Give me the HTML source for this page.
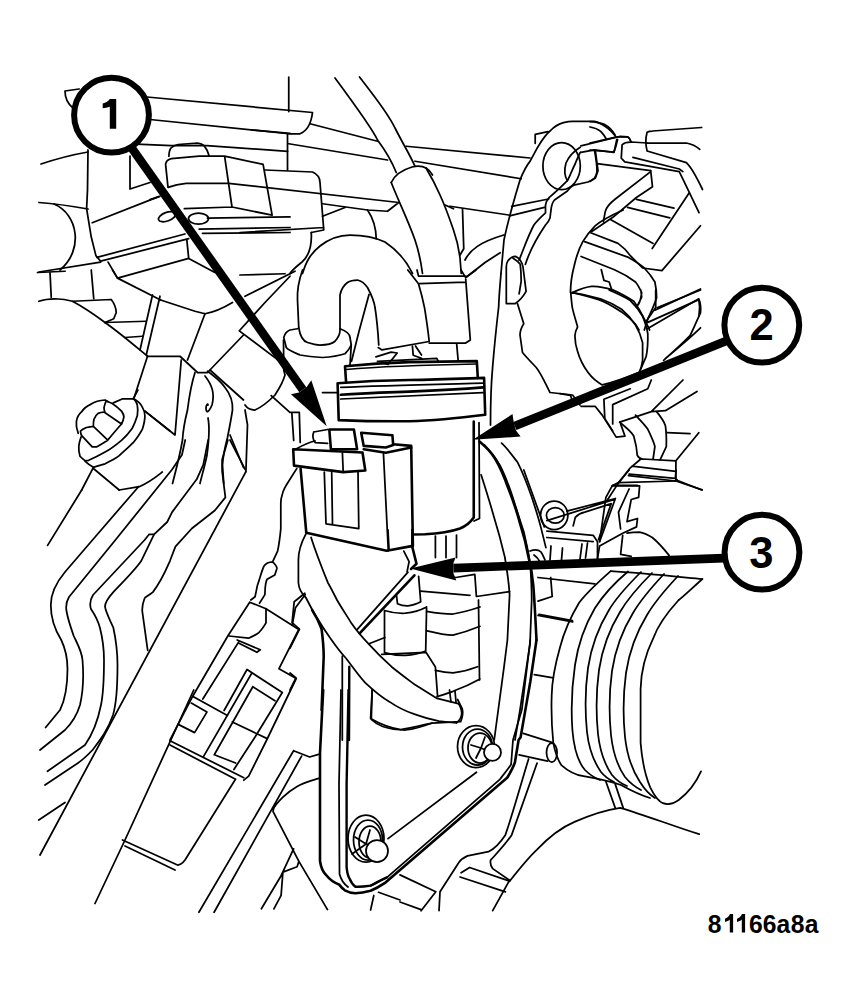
<!DOCTYPE html>
<html><head><meta charset="utf-8"><style>
html,body{margin:0;padding:0;background:#fff;width:854px;height:1008px;overflow:hidden}
svg{display:block}
.t{font-family:"Liberation Sans",sans-serif;font-weight:bold}
</style></head><body>
<svg width="854" height="1008" viewBox="0 0 854 1008">
<g fill="none" stroke="#000" stroke-width="1.75" stroke-linejoin="round" stroke-linecap="round">
<!-- region A -->
<path d="M65,91 L79,89 M65,91 C65,99 68,104 73,108"/>
<path d="M147,97 L312.5,112.5 C311,125 307,131 300,133.75 L288.75,133.75 L150,119.5"/>
<path d="M288.75,77 L288.75,111.5 M287.5,133.75 L287.5,170"/>
<path d="M136.2,144.2 L171.3,145.6 L206.6,145.6 L287.7,151.3"/>
<path d="M168.9,156.2 C169,152 169.5,150 171,148 C173,146 175,145 178,144.5 L197.5,143.1 C200,143.3 202,144 204.1,145.6 C206,148 208,152 209,155.4"/>
<path d="M165.6,164.4 C166,161 168,159.5 171.3,158.7 L199.2,156.2 L224.6,156.2 L263.1,164.4 L272.1,215.2 L232,207 L184.4,208.7 M165.6,164.4 L168,187.4 C174,185 180,183.8 186.1,183.3 L228.7,183.3 M224.6,156.2 L232,207 M251.6,130 L290,133.3"/>
<path d="M130,156 L130,189 L150,182.5"/>
<path d="M41,164 Q65,156 88,152"/>
<path d="M88,150 L87.5,190 L86.6,208.7 L91.2,236.8 L95.9,255.6 L100.6,261.2"/>
<path d="M39,202.5 Q60,204 88,209"/>
<path d="M54,204 C78,214 84,250 60,270"/>
<path d="M92.2,222.8 L158.7,196.6"/>
<path d="M96.9,257.4 L184.9,234 M100.6,261.2 L188.7,238.7 M39,272 L100.6,262.1"/>
<ellipse cx="167" cy="216.7" rx="9" ry="4.3" transform="rotate(-20 167 216.7)"/>
<ellipse cx="198.5" cy="218.6" rx="10" ry="5.5"/>
<path d="M207.4,218.1 L290,216.9 M150,199.7 L159.8,196.4"/>
<path d="M199.2,229.2 L290,227.5 M202.5,233.3 L290,232.5"/>
<path d="M108.1,262.1 L117.5,278.1 L188.7,258.4 L186.8,239.6 M117.5,278.1 L160.6,300 M188.7,258.4 L214.9,272.4"/>
<!-- region B -->
<path d="M310,123.75 L377.5,141.25"/>
<path d="M288.75,143.75 L387.5,160"/>
<path d="M406.25,146.25 L530,158 M415,161.25 L521.25,178.75"/>
<path d="M335,78 C355,105 372,128 377.5,140 C385,150 392,162 396.25,172.5"/>
<path d="M359.5,77 C375,97 388,113 395,128 C402,142 410,155 415,166.25"/>
<path d="M391.25,182.5 C395,174 402,170 412,167 C420,165 428,167 432.5,175"/>
<path d="M391.25,182.5 C398,200 408,220 415,240 C419,252 421,262 422.5,273.5"/>
<path d="M426,168 C432,178 436,186 440,195 C446,208 450,220 453.5,230 C457,240 459,250 460,258 L461.25,273.5"/>
<path d="M445,205 L453.5,208.75"/>
<path d="M265,170 L312.5,172 C317,174 320,178 320,182.5 L323.75,230 L311.25,232.5 M323.75,227.5 L240,232.5"/>
<path d="M228.7,183.3 L398.75,202.5 L387.5,211.25 L367.5,210 L322.5,203.75"/>
<path d="M322.5,216.25 L345,207.5"/>
<path d="M367.5,210 C373,218 376,228 376.25,238.75"/>
<path d="M302.5,273.5 C306,262 310,254 320,246 C330,238 340,235 350,235 C365,235 375,237 385,242 C397,250 406,260 412.5,273.5"/>
<path d="M311.25,232.5 C312,245 310,255 302,262 C297,266 292,270 290,273.5"/>
<!-- region C -->
<path d="M501,273.5 C502,262 503,250 504,240 C508,220 514,200 520,180 C524,170 527,165 530,161.4 L537.7,147.2 C542,140 546,134 550.6,130.5 C555,126 559,124 563.5,122.7 C567,121.8 570,121.4 572.5,121.4 L594.4,121.4 C599,122 603,125 607.3,127.9 C610,130 613,133 615.6,136.3"/>
<path d="M535.2,134.3 L535.2,143.3 M535.2,134.3 L548,131.7"/>
<ellipse cx="561.6" cy="166.1" rx="18.7" ry="23.5"/>
<path d="M580.2,147.2 C574,151 569,156 566,163 C564,170 564.5,176 567.4,180.7"/>
<path d="M580.9,145.9 L615.6,137.5 L620.2,136.3 L627.9,136.9 C629.5,138 630.5,140 631.1,142 M580.9,152.4 L594.4,149.8 L613.7,152.4 L615.6,147.2 L617.6,139.5"/>
<path d="M594.4,149.8 C596,158 597,165 597,171.7 C596.5,175 595.5,177 594.4,178.1 C592,180 590,181 588,182 L573.8,185.2 C570,187 569,189 567.4,191 L554.5,200 C552.5,202 551.8,205 551.3,207.7 L550,218 C549,221 547.5,223 545.5,225 C538,236 530,250 525.4,264.3"/>
<path d="M580.2,152.4 C578,157 576.5,160 575.1,164 C572,170 570,176 567.4,180.7 C562,186 556,192 549.3,197.4 C547,200 546,202 545.5,205.2 L545.5,212.9 C541,217 537,221 533.9,225 C528,236 524,248 519.1,260.1"/>
<path d="M511.7,206.3 L548.6,199 M509.6,215.8 L544.4,207.4 M466.4,277 L485.4,262.2 L500.2,252.7"/>
<path d="M450,206.25 L508.75,215"/>
<path d="M462.5,208.75 L463.75,248.75 L460,255"/>
<path d="M465,260 C470,250 480,242 503.75,235"/>
<!-- region D -->
<path d="M647.1,132.3 C649,131 650,131 652.5,131 L701.6,127.5 M647.1,132.3 C645.5,138 645.5,145 647.1,151 L686.4,162.7 C692,168 697,178 702.5,189.5"/>
<path d="M647.1,143 L686.4,143 C692,144 696,146 699.8,149.3"/>
<path d="M622.1,144.8 C624,142.5 627,142 631,142 L647.1,143 M622.1,144.8 L621.25,158.2 L624.8,161.8 L679.3,171.6 L699,212.7"/>
<path d="M632.9,157.3 L679.3,169 L682.9,171.6"/>
<path d="M590,143 L616.8,136.8 L627.5,136.8 C629.5,138 630.5,140 631,142 M590,150.2 L614.1,152 L616.8,139.5"/>
<path d="M590,121.6 C597,122 601,123 604.3,124.3 C609,127 613,131 615,135 M590,127 C596,128 599,130 600.7,131.4 C603,134 605,136 606,138.6"/>
<path d="M597.1,163.6 L650.7,170.7 M595.4,151 L598,170.7 L595.4,177.9 L590,181.4"/>
<path d="M650.7,170.7 L652.5,186.8 L636.4,197.5 L613.2,217.1 L591.8,231.4 M650.7,171.6 L615,199.3 C609,204 606,208 605.2,211.8 L603.4,221.6"/>
<!-- region E -->
<path d="M37.5,272.5 L65,271.25 M50,272.5 L51.25,297.5 M91.25,270 L93.75,298.75"/>
<path d="M38.75,301.25 C45,299 50,298.75 55,298.75 C62,299 68,300 72.5,301.25 C85,308 95,315 105,322.5 C120,333 135,346 147.5,356.25"/>
<path d="M72.5,301.25 L111.25,299.5 C114,303 116,308 116.25,312.5 L113.75,318.75 L105,322.5"/>
<path d="M105,322.5 L146.25,321.25 M125,337.5 L142.5,336.25"/>
<path d="M152.5,295 L140,350 M160,296.25 L146.25,355"/>
<path d="M160.6,300 L195,311.25 L205,313.75 C215,312 225,307 232.5,302.5 M112.5,270 L117.5,278.1"/>
<path d="M205,313.75 L187.5,360"/>
<path d="M147.5,356.25 L180,356.25 L197.5,372.5 L207.5,372.5 L243.5,335"/>
<path d="M147.5,356.25 L133.8,398.8 M144.9,411.1 L175,435 M181.25,360 L175,435"/>
<path d="M78.2,433.3 C76.5,429 76,425 76.4,421.6 C77,417 79,414 81.7,411.7 C84,408 87,406 91.1,404.1 C95,401.5 100,400.3 105.1,400 L108.1,401.7 M113.3,402.9 L122.7,398.8 L133.8,398.8"/>
<path d="M133.8,398.8 C136,401 137,403 137.3,405.2 C138,409 138,412 137.3,415.8 C136,420 134.5,424 132.1,428.6 C129,433 125.5,437 121.5,440.4 C116,445 111,449 105.1,452.1 C100,455 94,458 88.7,460.3 L85.2,460.8 C83,459 81.5,458 80,456.2 C79,453 78.5,450 78.8,446.2 C79,443 80,440 81.1,436.8"/>
<path d="M133.8,398.8 C138,401 141,404 142.6,407.6 C144,410 144.8,413 144.9,415.8 C145,420 144,424 142.6,428.6 C140,434 137,438 133.2,442.7 C129,447 124,451 119.2,455.6 C115,459 110,461 105.1,463.8 C101,465 97,466.5 93.4,467.3 C90,465.5 87.5,463.5 85.2,461.4"/>
<path d="M104,407.6 C104.5,405 105,403 106.3,401.1 C108,401.5 110,402.5 112.2,403.5 C116,406 119,408.5 121.5,411.1 C123,413 123.8,415 123.9,416.9 C123.5,419.5 122.8,421.8 121.5,424 L105.1,412.8 C104.3,411 104,409 104,407.6"/>
<path d="M104,412.2 C101.5,412.3 99.5,412.8 98.1,413.4 C96,415 94.8,417 94,419.3 C93.4,421.5 93.3,424 93.4,426.3 L107.5,439.8 M93.4,426.3 C91,426.5 88.5,427 86.4,427.5 C84,428.5 82,429.5 80.5,431 C80.5,433 81,434.5 81.7,435.7 L92.2,446.8 L96.9,446.8 C100,445 104,442.5 107.5,440.4 C112,435 117,429 121.5,424"/>
<path d="M93.4,467.3 L81.7,490 M93.4,468.5 L119.2,490 M144.9,411.1 L170,431 M133.2,398.8 L137.9,390"/>
<path d="M195,372.5 C191,385 189,398 187.5,410 C185,420 183,430 182.5,440 C180,455 176,470 172.5,483.5"/>
<path d="M207.5,371.25 C217,378 222,383 225,387.5 C231,395 233,402 232.5,410 C231,420 229,430 227.5,437.5 C225,447 223,456 222.5,465 L223.75,483.5"/>
<path d="M205,376 C212,385 215,393 212,405 C209,412 206,414 206,408 C206,405 208,403 208,405 M208,418 C210,428 209,440 207,455 C205,465 202,475 200,483.5"/>
<path d="M210,370 L243.5,400 M230,435 L243.5,467.5"/>
<!-- region F -->
<path d="M240,275 L285,273.75 M245,296.25 L295,271.25 M240,330 L265,302.5 L290,276.25"/>
<path d="M302.5,270 C299,280 297,290 297.5,300 L298.75,327.5 C300,336 303,341 307.5,342.5 C312,344 316,345 320,345 C327,345 332,344 335,341.25 C338,338 340,334 340,330 L340,295 C341,290 344,285 347.5,282.5 C351,280 354,280 357.5,280 C362,281 365,284 367.5,287.5 C371,294 374,300 375,307.5 C377,320 378,332 378.75,345"/>
<path d="M407.8,270 L418.5,283.7 C421,292 423,300 424.6,308.1 C426.5,320 428,330 429.2,341.5 L382,349.9 L378.2,347.6 M369,294.4 L359.1,330.9 L351.5,361.3"/>
<path d="M283.75,337.5 C285,333 287,331 290,330 L297.5,328.75 M340,328.75 C346,331 350,334 350,337.5 L351.25,345 C349,350 347,352 345,353.75 C338,356 330,357 322.5,357.5 C312,357 305,356 300,355 C293,352 288,350 286.25,347.5 L283.75,337.5"/>
<path d="M283.5,340 L283.75,370 L285,375 C282,385 278,390 275,395 C268,402 262,407 255,410 C250,410 247,408 245,405"/>
<path d="M351.25,345 L350,365"/>
<path d="M245,410 L247.5,425 L245.9,471.7 M271.2,395.6 L289.9,412.4 L299.3,412.4 L300.2,442.4 M291.8,412.4 L293.7,440.5 M239.3,330.9 L280.5,361.9"/>
<path d="M322.5,392.5 L337.5,392.5"/>
<path d="M375.9,356.8 L391.1,352.2 L397.2,353 L388.1,364.4 L382.7,362.9 M377.4,361.3 L436.8,358.3 L438.3,361.3 M412.4,346.1 L413.2,355.2 L421.5,358.3 M415.5,346 L421.5,355"/>
<path d="M418.5,276.1 L465.7,276.1 M419.3,283.7 L465.7,282.2 M465.7,279.1 L470.3,340 L465.7,343.1 L429.2,343.1 M456.6,343.1 L458.1,359.8 M417,270 L418.5,276.1 M461,270 L465.7,277.6 L476,270"/>
<!-- region G -->
<path d="M501,273.5 C500,285 499,296 498.7,306.5 C496,330 494,350 492.6,367.4 C491,385 490.5,405 490.5,425"/>
<path d="M517.5,303.75 L523.75,323.75 C521,328 520,332 520,335 L522.5,352.5 C527,358 532,363 536.25,367.5 C542,375 546,385 550,392.5 L572.5,395 C575,398 578,402 580,405"/>
<!-- canister & connector (thick) -->
<g stroke-width="2.6">
<path d="M345,366.3 C370,363.5 390,362.5 409.3,362.1 C440,361.5 460,361.2 476.8,361.1 L477.8,377.9 M345,366.3 L346.1,382.2"/>
<path d="M337.6,383.2 C360,381.5 390,380.3 409.3,380 C440,379.5 465,378.5 484.1,377.9 L485.2,414.8 C460,418 440,420.5 409.3,421.2 C380,421.5 360,421 338.7,420.1 L337.6,383.2"/>
<path d="M340.8,394.8 C370,393 390,392 409.3,391.6 C440,390.5 465,389 483.1,387.4"/>
<path d="M473.75,421.5 L473.75,517.5 C470,523 466,526 460,528.5 C450,532 440,533.5 425,534.2 L412.5,534.5"/>
<path d="M300.6,468.9 L306.3,532.8 L386.6,550.8 L412.9,545.9 L411.2,445.9 L393.2,444.3"/>
<path d="M293.2,449.2 L294,465.6 L343.2,472.1 L365.3,470.5 L362.5,452.5 L293.2,449.2"/>
<path d="M329.3,429.5 L353.9,429.5 L357.1,449.2 L330.9,449.2 Z"/>
<path d="M361.2,432.8 L392.4,435.2 L393.2,445.1 L385.8,447.5 L363.7,445.9 Z"/>
<path d="M363.7,449.2 L385.8,452.8 L411.2,447.5"/>
</g>
<path d="M346,369.5 C380,366.5 420,365 476.5,364"/>
<path d="M340.8,387.4 C380,385.5 430,384.5 483.1,383.2 M340.8,399 C380,397 430,395 483.1,392.7"/>
<path d="M479,422.7 L479.5,518.5 L474,521"/>
<path d="M313.7,432 L327.6,429.5 M313.7,432 C312.5,435 312.5,440 315.3,442.6 L327.6,443.4"/>
<path d="M324.3,472.1 L326,523.8 L358.8,528.7 L358,472.1 M331.7,472.5 L332.5,524.5"/>
<path d="M383.4,452.5 L388.3,550.8 M342.4,453 L343.2,472"/>
<path d="M296,449 C305,444 310,442 315,441"/>
<!-- left bottom curves -->
<path d="M138.5,486.7 L92.5,540 L65,572 C55,584 50.8,595 50.8,605 C50.8,620 55,630 61.25,640 C66,650 67.5,660 67.5,669 C67.5,685 65,700 60,710 L45.6,727.5"/>
<path d="M185.2,440 L182,454.8 L172.1,469.5 L115.4,540 L69,597 C66,602 66,608 66.5,611 C68,620 71,628 73.75,636 C78,645 82,652 82.5,660 C83.5,672 83.5,690 80,705 C77,715 73,722 65,730 L40,750"/>
<path d="M208.2,440 L203.3,464.6 L196.7,479.3 L172.1,512.1 L167.2,522 L154.1,534.3 L149.2,534.3 L144.6,540 L93,595 C90,600 90,606 91,609 C95,615 98,620 100,628 C103,640 104,650 104,660 C104,680 103,695 101,705 C98,720 92,735 85,745 L47.5,771.25"/>
<path d="M154.1,534.3 L141,561.3 C135,570 125,580 113.3,592.1 C108,598 105,602 105,606.7 C106,613 110,620 113.3,627.5 C116,640 117.5,650 117.5,665 C117.5,690 116,705 113,715 C108,730 100,740 92.5,750 C85,758 80,762 75,765 L45,785"/>
<path d="M227.9,440 L222.1,459.7 L222.1,471.1 L225.4,497.4 L214.8,510.5 L191.8,528.5 L175.4,546.6 L170,560.8 C166,570 162,580 152.9,592.1 C148,596 145,597 144.6,598.3 C142,605 142,610 142.5,612.9 L147.7,650.4"/>
<path d="M245.9,471.7 L40,855 M47.6,545.4 L81.7,490 M230,440 L245.1,469.4 M38.75,820 L65,802.5"/>
<path d="M119.2,490 L139.3,486.7 C150,482 156,477 162.3,472"/>
<!-- harness plug (left of bracket) -->
<path d="M296.7,468.6 L288.7,481.3 C285,487 283,491 282.4,494 C281,498 280.8,501 280.8,503.5 L280.8,528.9 C280,537 279,545 277.6,551.1 L272.6,561.8 C268,562 266,563 264,566 C262,570 260,578 257.3,585.8 L255.1,596.7 L250.8,600 M272.6,561.8 C275,564 277,566 276.9,568.4 L274.8,574.9 L267.1,579.3 C265,583 265,590 264.9,594.6 L259.5,603.3"/>
<path d="M249.7,602.2 L266,608.7 L298.8,629.5 L279,668.7 L296.2,678.5 L266.7,740 L248.7,776.1 L243.8,780.2 M249.7,602.2 L227.8,636 L193,695.7 L170,740"/>
<path d="M266,608.7 L266,622.9 C263,628 260,632 257.3,633.8 C254,636 251,637 248.6,638.2 L228.9,636"/>
<path d="M237.2,640 L260.2,649.8 L256.9,652.3 L238.9,643.3 M238.9,641.6 L202.8,699"/>
<path d="M193,696.6 L227.4,715.4 M191.3,703.1 L206.9,712.1 L194.6,732.6 L178.2,724.4 M170,740.8 L243.8,777.7 M170,745 L235.6,779.3"/>
<path d="M224.1,710.5 L247,669.5 L252,672.8 L203.6,756.4 M252,672.8 L282.3,692.5 L255.2,736.7 L233.9,769.5 M252.8,686.7 L274.9,700.7 M252.8,686.7 L214.3,754.8 L235.6,763 M232.3,722 L266.7,738.4"/>
<path d="M235,780 L185,860 C182,864 180,865 177.5,865 L122.5,840 M125,846 L175,870 M193.75,690 L125,840 L95,903.5"/>
<path d="M305.3,594.6 L295.5,607.7 L292.2,625.1"/>
<!-- hose loop & fitting 3 -->
<path d="M305.8,534.2 C300,545 298.4,552 298.4,560 L298.4,582.7 C299,590 302,594 305.8,597.5 C313,612 321,625 330,637.8 C335,645 340,652 345.8,658 C352,666 358,675 365.1,682.6 C373,690 381,697 389.7,701.9 C397,707 405,711 414.3,714.2 C422,717 430,719.5 438.9,721.2 L456.5,723 C460,720 462,716 461.7,712.4 C461,708 460,705 458.2,703.6 L437.1,698.4 C430,694 422,689 414.3,684.3 C406,678 398,672 391.5,666.7 C383,659 375,651 368.6,643.9 C362,637 356,630 351.1,622.8 C347,616 341,607 337,600 C334,594 331,588 327.9,582.7 C322,568 316,553 311.1,537.4"/>

<g stroke-width="2.6"><path d="M414.4,575.3 L359.6,633.3 M412.3,530 L412.3,546.9 L416.5,563.7 L411,569"/></g>
<path d="M408,572.2 L357.5,629.1 M403.8,551.1 L409.1,561.6 L407,572.2"/>
<path d="M396.5,595.3 L397.5,603.8 C401,605.5 404,606 408,605.9 C413,605 417,604 420.7,601.7 L418.6,576.4"/>
<path d="M384.5,610.5 C392,613 398,613.5 405.5,613.2 C413,612.5 420,610.5 426.6,607 M384.5,610.5 L384.5,652.7 C392,655 398,655.5 405.5,655.3 C413,655 420,653.5 425.7,651 L426.6,607"/>
<path d="M381.7,654.4 L426,652.3 L435.4,667 L437.6,696.5 M369,643.8 L384.9,637.5"/>
<path d="M420.7,591.1 L470,595.3 M426.6,611.4 C436,613 444,614 453,614 C462,612.5 471,610 480,607 M426.6,630.7 C436,633 444,635 453,635.1 C462,633 471,630 480,626.3 M435.4,670.3 C441,671.5 447,672.5 453,672.9 C461,672 469,670 477.5,666.7 M437.1,696.6 C443,695 448,693 453,691.3 C462,688 471,684 480,679 M478.5,600 L479.5,680 M449.5,690 L451,702 M455,691 L456,702"/>
<path d="M435.4,536 L435.4,557.5 M446,536 L446,557.5 M456.5,535 L456.5,557.5 M388,530 L389,549"/>
<path d="M312.1,610.1 C316,616 319,622 321.6,629.1 C323,640 323.7,650 323.7,656.5 L321.6,710" stroke-width="2.6"/>
<path d="M342.3,656 L342.3,740 M372.2,689.6 L371.3,719.4 C375,723 379,725 382.7,726.5 C390,729 398,730 405.5,730 C415,729 423,726.5 431.9,723"/>
<path d="M349.3,666.7 L349,740" stroke-width="2.4"/>
<path d="M304.8,593.2 L294.2,601.7 L292.1,622.7 L299.5,629.1 L290,648 M290,673 L296,678 L290,690"/>
<!-- bracket -->
<path d="M323.2,690 L320,753 L320,861 C321,868 323,872 326.1,875 C330,880 335,883 339,884.4 C341,887 343,889 344.8,890.3 C348,892 351,893 355.4,893.2 C361,893 366,892 370.6,890.8 C375,889 379,887 384.6,883.2 L507.4,777.5 C510,773 513,768 514.9,762.5 L518.6,740 L520.6,737.2 L530.3,681.7 L536.5,640" stroke-width="2.6"/>
<path d="M348.5,690 L346.6,784.8 L346.6,866.8 C347,872 348,876 349.5,878.5 C351,882 353,885 355.4,886.7 C360,887 365,886.5 370.6,885.6 C376,883 381,880 387,877.4" stroke-width="2.4"/>
<path d="M370.6,885.6 C376,883 381,880 387,877.4 L499.9,779.3 C504,774 508,769 511.1,764.4 L513,740 L521.9,709.4 L530.3,640"/>
<path d="M341,690 L339,784 L339.5,874 C341,880 344,884 348,887 M388,838.6 L476.5,772.2"/>
<ellipse cx="476" cy="746.6" rx="18.5" ry="21"/>
<ellipse cx="477.5" cy="747" rx="15" ry="18"/>
<ellipse cx="480" cy="748" rx="12" ry="15"/>
<path d="M471,745 L481,748 L485,737 M481,748 L476,758 M481,748 L490,752"/>
<circle cx="492.5" cy="752.4" r="8.5" fill="#fff"/>
<ellipse cx="366" cy="838.6" rx="18" ry="23.5"/>
<ellipse cx="368" cy="840" rx="14.5" ry="20"/>
<ellipse cx="370" cy="842" rx="11" ry="16"/>
<path d="M355,837 L366,844 L370,830 M366,844 L352,854 M366,844 L376,846"/>
<circle cx="377" cy="851" r="11" fill="#fff"/>
<path d="M372.2,690 L370.6,718.5 C380,724 390,728 400.7,729.5 C412,728 422,725 432.3,723.2 L460.7,721.6 C463,716 463,712 462.3,709 L457.6,699.5"/>
<path d="M293.6,750.7 L198.9,912.3 M301.6,756.1 L214.1,912.3 M293.6,750.7 L309.6,757 L318.6,754.3 M318.6,778.4 C310,781 303,783 297.1,786.4 C291,790 287,793 282.9,797.1 C279,801 276,804 273.9,807.9 L273,811.4 L298.9,861.4 L327.5,909.6 M293.6,848.9 L281.1,875.7 L261.4,908.8 M298.9,861.4 L297.1,866.8 L282.9,872.1 L281.1,895.4 L273.9,908.8"/>
<path d="M528.6,759 C522,780 514,810 505.4,834.9 C500,843 494,849 488.5,851.7 L467.5,855.9 C464,857.5 461,859.5 459,862.3 L440,891.8 L439,910.7"/>
<path d="M537,763.2 L511.7,834.9 C505,845 497,853 490.6,860.2 C490,864 491,866.5 492.7,868.6 L509.6,880.2 L492.7,910.7"/>
<path d="M461.1,872.8 L469.6,867.5 L509.6,881.2 M460.1,877 L505.4,891.8 M400,874.9 L435.8,891.8 L421.1,910.7 M400,902 L421,909.6"/>
<path d="M519.1,754.8 L547.6,761.1 "/>
<ellipse cx="551.8" cy="752.6" rx="5.3" ry="9.5"/>
<path d="M378.5,892.3 L400,900 M373.8,895.5 L370.6,910"/>
<!-- throttle body -->
<path d="M610.7,571.2 C640,573 670,576 702.4,579"/>
<path d="M678.7,600 C665,615 657,628 653.3,638.1 C645,655 641,672 640.6,688.9 L640.6,742.9 C642,760 645,775 650.2,787.3 C654,795 658,801 662.9,803.2 C668,805 673,804 678.7,800 C688,793 695,785 701,771.4"/>
<path d="M702.4,579 C690,590 683,597 678.7,600"/>
<path d="M610.7,571.2 C595,585 585,595 579.1,602.8 C570,618 564,632 560.1,647 C555,665 552,680 551.7,695.2 C551,715 552,730 553.3,742.9 C555,752 558,760 561.3,765.1 C568,771 575,775 583.5,776.2 C600,779 612,782 621,785 C630,790 640,795 650,798"/>
<path d="M628,571.5 C612,585 602,597 595,608 C585,625 578,645 575,665 C572,685 571,710 572.4,730 C574,750 578,762 585,770 C590,775 595,778 600,780"/>
<path d="M641,572 C626,587 616,598 609,610 C598,628 591,648 588,668 C585,690 585,712 587,732 C589,750 594,762 601,772 C605,777 610,780 614,782"/>
<path d="M652,573 C637,588 627,600 620,612 C609,630 602,650 599,670 C596,692 596,714 598,734 C600,752 605,765 612,775 C617,781 622,784 627,786"/>
<path d="M664,574 C650,589 640,601 633,613 C622,631 615,651 612,671 C609,693 609,715 611,735 C613,753 618,767 625,777 C630,783 635,787 641,790"/>
<path d="M678,576 C664,591 654,603 647,615 C636,633 629,653 626,673 C623,695 623,717 625,737 C627,755 632,770 640,782 C645,790 650,795 655,798"/>
<path d="M605.7,781 L615.2,807.9 M615.2,784.1 L623.2,807.9"/>
<path d="M509.6,881.2 C520,868 528,858 537,849.6 C548,838 560,828 574.5,821.9 C590,815 605,810 620.2,807.8 C645,815 670,825 699.2,834.2"/>
<path d="M539,614.3 L572.4,620.6 M534.3,674.6 L553.3,677.8 M523.2,733.3 L553.3,742.9"/>
<path d="M479.5,441.6 C486,447 491,452 495.3,459 C500,467 504,476 508,487.5 C513,500 517,512 520.6,525.4 C524,536 526.5,546 528.5,557 C531,567 532.5,576 533.3,585.5 C534.5,600 535.5,620 536.5,640" stroke-width="2.6"/>
<path d="M481.1,474.8 C486,490 490,503 493.7,516 C498,530 502,545 504.8,557 C507,570 509,583 509.6,595 L507.4,640 L503.9,667.8 L494.2,740"/>
<path d="M484.3,444.8 C490,451 496,458 500,465.4 C505,475 509,486 512.7,497 C516,508 520,520 523.8,531.8 C526,542 528.5,552 530.1,563.4 C531,575 531.7,590 531.7,600 L530,644 L520,710 L515,740"/>
<path d="M501.6,443.2 C507,448 512,455 517.5,462.2 C523,473 527.5,485 531.7,497 C535,507 538.5,518 541.2,528.6 L545.9,547.6"/>
<path d="M523.8,470 L544.3,526.9"/>
<ellipse cx="554.2" cy="515.3" rx="13.7" ry="14.2"/>
<ellipse cx="555.3" cy="515.3" rx="8.9" ry="7.8"/>
<path d="M546.9,520.6 L614.3,499.5 M566.9,511.1 L615.4,498.5 L599.6,541.7 M573.2,525.9 L575.3,517.4 C578,514.5 581,513 584.8,512.2 L611.2,503.7 L598.5,539.6"/>
<path d="M612.2,485.8 L639.6,485.8 L638.6,497.4 L631.2,499.5 L627,521.6 L637.5,518.5 L636.5,526.9 L622.7,533.2 L599.6,545.9 L597.5,558.5 M612.2,485.8 L605.9,497.4 L599.6,541.7 M629.1,489 L618.5,512.2 L620.6,529"/>
<path d="M629.1,470 L618.5,482.6 L612.2,485.8 M629.1,474.2 L675.4,478.4 L677.6,480.5 L701.8,490 M676,470 L675.4,478.4 M618.5,482.6 L676,481"/>
<path d="M627,533.2 C631,532.5 635,532.2 639.6,532.2 C644,533 648,535 652.3,537.5 C659,543 664,549 669.1,555.4 M622.7,535.3 L620.6,554.3 L631.2,556.4"/>
<path d="M546.9,531.1 L593.2,535.3 L597.5,541.7 L597.5,558.5 M546.9,537.5 L593.2,541.7 M551,546 L550,560 M562.5,548 L561.5,560 M582,544 L580,559 M587.5,543 L585.5,558"/>
<path d="M530,551 C535,549 538,549 541,552 C543,555 544,558 545,560 M534,555 C537,557 539,560 540,562"/>
<path d="M440,574.3 L455.8,577.5 L474.8,574.3 L476.4,596.5 L509.6,591.7"/>
<path d="M538,577.5 L594.9,583.8 M538,615.4 L572.8,621.8 M550.7,577.5 L552.2,596.5 L538,601.2"/>
<!-- right middle refined -->
<path d="M512.8,258 C516,260 518.5,262 520.2,264.3 C521,270 521.2,276 521.2,281.2 L519.1,293.8"/>
<path d="M507.8,261 C510,258 513,256.3 515.4,256.3 C519,258 522,262 523,267 L526.1,291.4 C523,297 519,301 515.4,303.5 L506.3,303.5 L506.3,267 C506.5,264 507,262 507.8,261"/>
<path d="M623.2,210 C612,215 602,220 595.1,225.8 C590,231 586,236 582.8,241.6 C578,250 576,258 574.1,266.2 C571,278 570.5,285 570.5,292.6 L570.5,290 C571,296 571.5,302 572.3,307.6 C574,315 576,321 577.6,326.9 C576,330 575,333 574.9,335.7 C575,342 576,347 577.6,351.5 C580,360 584,367 588.1,372.6 C592,378 597,382 602.2,384.9 C615,382 628,377 639,372.6 C641,369 642,365 642.6,360.3 L642.6,342.7 C641,336 638.5,330 635.5,325.1 C631,318 626,313 621.5,309.3 C615,305 608,301.5 600.4,298.8 C590,296 580,293.5 570.5,292.6"/>
<path d="M609.2,290 C618,294 625,297 630.3,300.5 C635,305 639,310 642.6,316.3 C645,322 647,328 647.8,333.9 C648,342 647.5,350 646.1,356.7 L640.8,369"/>
<path d="M590.7,232.8 L618,243.4 C623,247 627,251 630.3,255.7 L642.6,268 L661.9,270.6 L700.5,225.8"/>
<path d="M584.6,241.6 L628.5,257.4 C635,261 640,264 644.3,268 C649,273 652,277 654.9,282 C656,287 656.6,292 656.6,297.8 C654,306 651,312 647.8,318.9 L644.3,330"/>
<path d="M581.1,256.5 L614.5,269.7 C622,273 629,277 635.5,282 C638,285 640,289 641.7,292.6 C641,298 640,302 638.2,304.9 M637.3,305.8 C639,302 641,299 641.7,297 L640.8,290"/>
<path d="M572.3,292.6 C578,290 585,287 591.6,286.4 C598,286 605,287.5 612.7,289.9 C620,293 627,297 633.8,301.3 C638,307 641,312 644.3,318.9 L649.6,330"/>
<path d="M572.3,292.6 C580,294 590,297 598.6,299.6 C606,302 614,307 621.5,311.9 C627,316 632,320 635.5,324.2 L639,330"/>
<path d="M601.3,269.7 L603.9,280.3 L609.2,282 L611.8,289.9"/>
<path d="M610.9,219.7 L653.1,243.4 M627.5,207.3 L669.8,217.9 M652.2,248.6 L689.1,193 M636.4,199.3 L673.9,208.2"/>
<path d="M654.9,310.1 L700.5,289 M647.8,322.4 L698.8,299.6 C700,305 700,310 699,316"/>
<path d="M655.7,290 L655.7,307.6 L646.1,321.6 M657.5,307.6 L700.5,290"/>
<path d="M647.8,328.6 L698.8,298.8 C701,304 701,308 700.5,312.8 C697,320 694,328 690,335.7 C682,344 673,352 663.6,360.3 M665.4,358.5 C678,348 690,338 700.5,327.8"/>
<path d="M581.1,406.3 L595.1,406.3 L602.2,415.1 L616.2,437.1 L625,436.2 L620.6,423.9"/>
<path d="M603.9,399.3 L604.8,418.6 L612.7,430.9 M612.7,404.6 L612.7,423.9 M612.7,404.6 L647.8,388.8 L651.3,380 M603.9,399.3 L630.3,388.8"/>
<path d="M619.7,422.2 L651.3,411.6 L665.4,410.7 L697,391.4 M651.3,411.6 L683,380"/>
<path d="M619.7,422.2 C627,428 632,432 633.8,436.2 C636,444 637,450 637.3,455.5 C639,458 640.5,459 642.6,459 L675.9,460.8"/>
<path d="M635.5,415.1 C640,420 645,425 647.8,429.2 C651,436 654,442 654.9,446.7 L653.1,459 M656.6,411.6 C661,417 664,421 665.4,425.7 C666.5,433 666.5,440 666.3,446.7 L660.1,459.9"/>
<path d="M667.1,432.7 L690,433.6 M675.9,460.8 L698.8,432.7 M640.8,459 L630.3,467.8 L618,483.6 L607.4,500 M632,466.1 L675.9,471.3 M628.5,475.7 L675.9,481 L702.3,489.8 M675.9,460.8 L675.9,481 M612.7,485.4 L637.3,485.4"/>
<path d="M560,393.6 L570.5,395.4 L572.3,400.7"/>
</g>
<!-- callouts -->
<g stroke="#000" stroke-width="8.6" fill="none" stroke-linecap="butt">
<path d="M131.7,148 L302.8,389.7"/>
<path d="M728,340.3 L514.8,426"/>
<path d="M724,558.1 L453.5,568.1"/>
</g>
<g stroke="#000" stroke-width="6" fill="#fff">
<circle cx="111.5" cy="115.1" r="37.4"/>
<circle cx="761.8" cy="325.1" r="37.4"/>
<circle cx="762" cy="552.2" r="37.4"/>
</g>
<g fill="#000" stroke="none">
<path d="M326.7,426.2 L311.3,380.2 L306.7,386.9 L299,392.5 L290.9,394.2 Z"/>
<path d="M472.8,439.8 L512.5,414.1 L513.6,421.5 L516,430.6 L520.6,436.6 Z"/>
<path d="M410.3,568.5 L455.6,557.6 L453.5,562.8 L453.5,573.4 L456.3,580.4 Z"/>
<path d="M730,914 L733.1,914 L733.1,932.6 L729.8,932.6 L729.8,919.5 C728.5,920.8 726.8,921.6 725,922 L725,918.8 C727,918 729,916.5 730,914 Z"/>
<path d="M742,914 L745.1,914 L745.1,932.6 L741.8,932.6 L741.8,919.5 C740.5,920.8 738.8,921.6 737,922 L737,918.8 C739,918 741,916.5 742,914 Z"/>
<path d="M109.8,99 L116.2,99 L116.2,128.8 L109.8,128.8 L109.8,106.8 C107.5,107.6 105,108 102.7,108.2 L102.7,103.6 C106,102.8 108.5,101.3 109.8,99 Z"/>
</g>
<g class="t" fill="#000">
<text x="761.7" y="339.8" font-size="43.5" text-anchor="middle">2</text>
<text x="761.4" y="567.5" font-size="43.5" text-anchor="middle">3</text>
<g font-size="26" transform="translate(0,932.6) scale(0.95,1)">
<text x="745" y="0">8</text>
<text x="788.5" y="0">6</text>
<text x="803" y="0">6</text>
<text x="817.5" y="0">a</text>
<text x="832.5" y="0">8</text>
<text x="847" y="0">a</text>
</g>
</g>
</svg>
</body></html>
